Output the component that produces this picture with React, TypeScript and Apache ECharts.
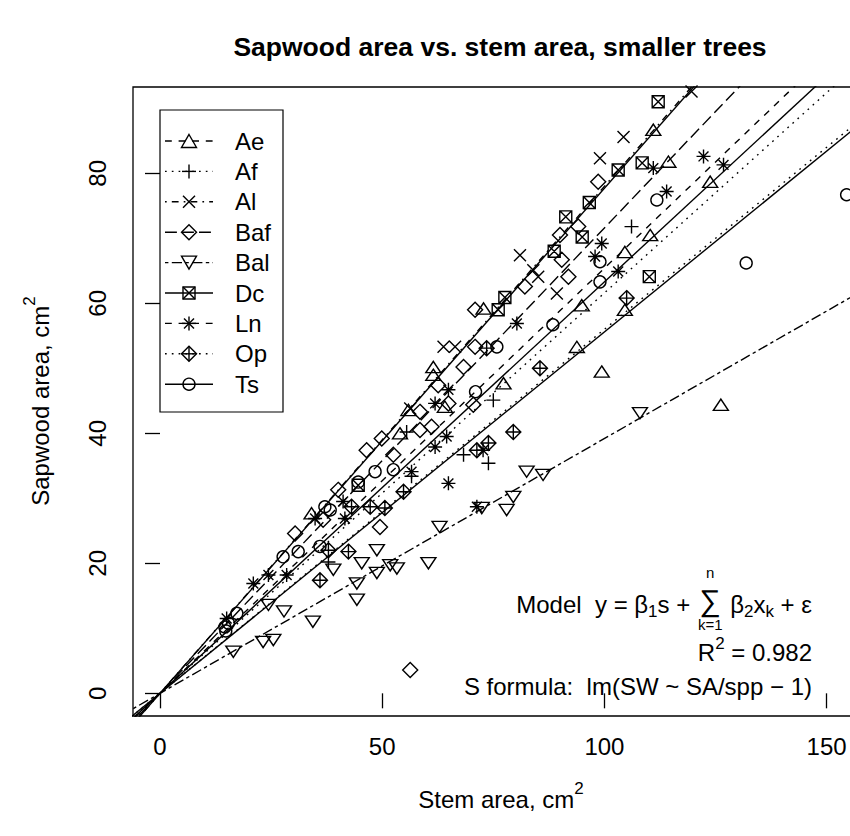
import React, { useEffect, useRef } from "react";
import * as echarts from "echarts";

// ---------------- data ----------------
const speciesNames = ["Ae", "Af", "Al", "Baf", "Bal", "Dc", "Ln", "Op", "Ts"];

const aeData = [
  [111.0, 86.7], [114.4, 81.8], [123.8, 78.7], [110.3, 70.5], [104.6, 67.9],
  [94.9, 59.7], [104.6, 59.0], [93.8, 53.3], [99.4, 49.5], [77.3, 47.7],
  [72.8, 59.2], [126.2, 44.4], [34.1, 27.7], [55.9, 43.6], [54.0, 40.0],
  [64.1, 44.1], [61.5, 50.2], [61.5, 49.0],
];
const afData = [
  [106.1, 71.8], [75.0, 45.1], [73.9, 35.4], [55.5, 40.2], [56.6, 33.4],
  [68.3, 36.7], [37.9, 20.2],
];
const alData = [
  [119.6, 92.6], [104.3, 85.6], [99.0, 82.3], [81.0, 67.4], [84.0, 65.1],
  [85.1, 64.1], [89.3, 61.5], [63.8, 53.3], [66.4, 53.3], [56.3, 43.8],
];
const bafData = [
  [98.6, 78.7], [90.0, 70.5], [94.1, 71.8], [90.4, 66.7], [91.9, 64.1],
  [82.1, 62.6], [70.9, 59.0], [70.9, 53.3], [68.3, 50.2], [62.6, 47.4],
  [64.9, 44.6], [58.5, 43.3], [70.5, 44.4], [49.9, 39.2], [58.5, 40.5],
  [61.1, 41.0], [46.5, 37.4], [52.5, 36.7], [49.5, 25.6], [40.1, 31.3],
  [36.7, 26.7], [30.4, 24.6], [56.3, 3.6],
];
const balData = [
  [16.5, 6.4], [23.2, 7.9], [25.5, 8.2], [34.4, 11.0], [24.4, 13.6],
  [27.9, 12.6], [39.0, 19.0], [44.3, 16.9], [44.3, 14.4], [45.4, 20.0],
  [48.8, 22.0], [48.8, 18.5], [51.8, 19.7], [53.3, 19.2], [60.4, 20.0],
  [62.9, 25.6], [108.0, 43.1], [82.5, 34.1], [86.2, 33.6], [79.5, 30.2],
  [78.0, 28.2], [72.4, 28.5],
];
const dcData = [
  [112.1, 91.0], [103.1, 80.5], [108.5, 81.6], [96.6, 75.5], [91.3, 73.3],
  [95.0, 70.2], [88.7, 68.0], [77.6, 60.9], [76.1, 59.0], [110.1, 64.1],
  [44.6, 32.0],
];
const lnData = [
  [122.3, 82.6], [126.8, 81.3], [111.0, 80.8], [114.0, 77.2], [99.4, 69.2],
  [97.9, 67.2], [103.1, 64.9], [80.3, 56.9], [61.9, 44.6], [64.5, 39.5],
  [61.9, 37.9], [56.6, 34.1], [64.9, 32.3], [71.3, 28.7], [41.2, 29.5],
  [41.6, 26.9], [34.9, 26.9], [28.5, 18.2], [21.0, 16.9], [24.4, 18.2],
  [15.0, 11.5], [64.9, 46.7], [72.7, 37.4],
];
const opData = [
  [105.0, 60.8], [85.5, 50.0], [73.5, 53.1], [79.5, 40.2], [73.9, 38.5],
  [71.3, 37.4], [54.8, 31.0], [47.3, 28.7], [50.6, 28.5], [43.1, 28.7],
  [37.9, 22.0], [36.0, 17.4], [42.4, 21.8],
];
const tsData = [
  [154.5, 76.7], [131.9, 66.2], [111.8, 75.9], [99.0, 66.4], [99.0, 63.3],
  [88.4, 56.7], [75.8, 53.3], [71.0, 46.4], [48.4, 34.1], [52.5, 34.4],
  [44.6, 32.5], [38.3, 28.2], [37.1, 28.7], [36.0, 22.6], [31.1, 21.8],
  [27.7, 21.0], [17.3, 12.3], [14.6, 10.2], [14.8, 9.6], [15.4, 10.8],
];
const speciesData = [aeData, afData, alData, bafData, balData, dcData, lnData, opData, tsData];

// fitted slopes (through origin), one per species
const speciesSlopes = [0.633, 0.616, 0.78, 0.716, 0.392, 0.777, 0.654, 0.56, 0.556];

const xTickValues = [0, 50, 100, 150];
const yTickValues = [0, 20, 40, 60, 80];

const titleText = "Sapwood area vs. stem area, smaller trees";
const xAxisTitle = "Stem area, cm";
const yAxisTitle = "Sapwood area, cm";
const r2Text = "0.982";
const formulaText = "S formula:  lm(SW ~ SA/spp \u2212 1)";

// ---------------- styles ----------------
const FONT = '"Liberation Sans", Arial, Helvetica, sans-serif';
const LW = 1.4;
const U = 1.7;
const DASH: Record<string, any> = {
  solid: "solid",
  dashed: [4 * U, 4 * U],
  dotted: [1 * U, 3 * U],
  dotdash: [1 * U, 3 * U, 4 * U, 3 * U],
  longdash: [7 * U, 3 * U],
  twodash: [2 * U, 2 * U, 6 * U, 2 * U],
};
// legend line types
const speciesLty = ["dashed", "dotted", "dotdash", "longdash", "twodash", "solid", "dashed", "dotted", "solid"];
// line types of the fitted lines as they appear in the plot
const fitLty = ["solid", "dotted", "dotdash", "longdash", "twodash", "solid", "dashed", "dotted", "solid"];
const speciesPch = ["triUp", "plus", "cross", "diamond", "triDown", "boxX", "star", "diamondPlus", "circle"];

const SYMBOL_PATH: Record<string, string> = {
  triUp: "path://M5 0L10 8.66L0 8.66Z",
  plus: "path://M5 0L5 10M0 5L10 5",
  cross: "path://M0 0L10 10M10 0L0 10",
  diamond: "path://M5 0L10 5L5 10L0 5Z",
  triDown: "path://M0 0L10 0L5 8.66Z",
  boxX: "path://M0 0L10 0L10 10L0 10ZM0 0L10 10M10 0L0 10",
  star: "path://M0 5L10 5M5 0L5 10M1.46 1.46L8.54 8.54M8.54 1.46L1.46 8.54",
  diamondPlus: "path://M5 0L10 5L5 10L0 5ZM5 0L5 10M0 5L10 5",
  circle: "circle",
};
const SYMBOL_SIZE: Record<string, any> = {
  triUp: [15, 13], plus: 14, cross: 12, diamond: 15, triDown: [15, 13],
  boxX: 12, star: 14, diamondPlus: 15, circle: 12,
};

// layout (pixels)
const CW = 880;
const CH = 836;
const GRID = { left: 133, top: 87, right: 10, bottom: 120 };
const X_MIN = -6.075;
const X_MAX = 159.76;
const Y_MIN = -3.49;
const Y_MAX = 93.28;

let measureCtx: CanvasRenderingContext2D | null = null;
function textW(t: string, size: number, weight = "normal") {
  if (!measureCtx) measureCtx = document.createElement("canvas").getContext("2d");
  measureCtx!.font = `${weight} ${size}px ${FONT}`;
  return measureCtx!.measureText(t).width;
}

function txt(t: string, x: number, y: number, size: number, align = "left", extra: any = {}) {
  return {
    type: "text",
    x,
    y,
    z: 100,
    silent: true,
    style: {
      text: t,
      fontSize: size,
      fontFamily: FONT,
      fill: "#000",
      textAlign: align,
      textVerticalAlign: "middle",
      align,
      verticalAlign: "middle",
      ...extra,
    },
  };
}

function symbolGraphic(kind: string, cx: number, cy: number) {
  const st = { fill: "none", stroke: "#000", lineWidth: LW };
  const L = (x1: number, y1: number, x2: number, y2: number) => ({
    type: "line", z: 101, silent: true, shape: { x1, y1, x2, y2 }, style: st,
  });
  const P = (pts: number[][]) => ({ type: "polygon", z: 101, silent: true, shape: { points: pts }, style: st });
  switch (kind) {
    case "triUp":
      return [P([[cx, cy - 6.5], [cx + 7.5, cy + 6.5], [cx - 7.5, cy + 6.5]])];
    case "triDown":
      return [P([[cx - 7.5, cy - 6.5], [cx + 7.5, cy - 6.5], [cx, cy + 6.5]])];
    case "plus":
      return [L(cx - 7, cy, cx + 7, cy), L(cx, cy - 7, cx, cy + 7)];
    case "cross":
      return [L(cx - 6, cy - 6, cx + 6, cy + 6), L(cx + 6, cy - 6, cx - 6, cy + 6)];
    case "diamond":
      return [P([[cx, cy - 7.5], [cx + 7.5, cy], [cx, cy + 7.5], [cx - 7.5, cy]])];
    case "diamondPlus":
      return [
        P([[cx, cy - 7.5], [cx + 7.5, cy], [cx, cy + 7.5], [cx - 7.5, cy]]),
        L(cx - 7.5, cy, cx + 7.5, cy), L(cx, cy - 7.5, cx, cy + 7.5),
      ];
    case "boxX":
      return [
        { type: "rect", z: 101, silent: true, shape: { x: cx - 6, y: cy - 6, width: 12, height: 12 }, style: st },
        L(cx - 6, cy - 6, cx + 6, cy + 6), L(cx + 6, cy - 6, cx - 6, cy + 6),
      ];
    case "star":
      return [
        L(cx - 7, cy, cx + 7, cy), L(cx, cy - 7, cx, cy + 7),
        L(cx - 5, cy - 5, cx + 5, cy + 5), L(cx + 5, cy - 5, cx - 5, cy + 5),
      ];
    default:
      return [{ type: "circle", z: 101, silent: true, shape: { cx, cy, r: 6 }, style: st }];
  }
}

function buildGraphics() {
  const g: any[] = [];
  // title
  g.push(txt(titleText, 500, 47, 26.5, "center", { fontWeight: "bold" }));

  // x axis title with superscript
  {
    const w1 = textW(xAxisTitle, 24);
    const w2 = textW("2", 17);
    const x0 = 501 - (w1 + w2) / 2;
    g.push(txt(xAxisTitle, x0, 799, 24));
    g.push(txt("2", x0 + w1, 788, 17));
  }
  // y axis title (rotated)
  {
    const w1 = textW(yAxisTitle, 24);
    const w2 = textW("2", 17);
    const x0 = -(w1 + w2) / 2;
    g.push({
      type: "group",
      x: 40,
      y: 401,
      rotation: Math.PI / 2,
      children: [txt(yAxisTitle, x0, 0, 24), txt("2", x0 + w1, -11, 17)],
    });
  }

  // legend
  const lx = 160, ly = 110, lw = 123, lh = 302;
  g.push({
    type: "rect", z: 99, silent: true,
    shape: { x: lx, y: ly, width: lw, height: lh },
    style: { fill: "#fff", stroke: "#000", lineWidth: 1.2 },
  });
  speciesNames.forEach((name, i) => {
    const y = 141 + 30.4 * i;
    const dash = DASH[speciesLty[i]];
    g.push({
      type: "line", z: 100, silent: true,
      shape: { x1: 165, y1: y, x2: 213, y2: y },
      style: { stroke: "#000", lineWidth: LW, lineDash: dash === "solid" ? null : dash },
    });
    symbolGraphic(speciesPch[i], 189, y).forEach((e) => g.push(e));
    g.push(txt(name, 235, y, 24));
  });

  // model annotation (right-aligned)
  const RX = 812;
  {
    const cy = 604;
    const pieces: any[] = [
      { t: "Model  y = \u03b2", s: 24, dy: 0 },
      { t: "1", s: 17, dy: 7 },
      { t: "s + ", s: 24, dy: 0 },
      { sigma: true },
      { t: " \u03b2", s: 24, dy: 0 },
      { t: "2", s: 17, dy: 7 },
      { t: "x", s: 24, dy: 0 },
      { t: "k", s: 17, dy: 7 },
      { t: " + \u03b5", s: 24, dy: 0 },
    ];
    const sigW = Math.max(textW("\u2211", 30), textW("k=1", 15)) + 2;
    const widths = pieces.map((p) => (p.sigma ? sigW : textW(p.t, p.s)));
    let x = RX - widths.reduce((a, b) => a + b, 0);
    pieces.forEach((p, i) => {
      if (p.sigma) {
        const c = x + widths[i] / 2;
        g.push(txt("\u2211", c, cy - 4, 30, "center"));
        g.push(txt("n", c, cy - 32, 15, "center"));
        g.push(txt("k=1", c, cy + 20, 15, "center"));
      } else {
        g.push(txt(p.t, x, cy + p.dy, p.s));
      }
      x += widths[i];
    });
  }
  {
    const cy = 652;
    const w3 = textW(" = " + r2Text, 24);
    const w2 = textW("2", 17);
    const w1 = textW("R", 24);
    const x0 = RX - w1 - w2 - w3;
    g.push(txt("R", x0, cy, 24));
    g.push(txt("2", x0 + w1, cy - 9, 17));
    g.push(txt(" = " + r2Text, x0 + w1 + w2, cy, 24));
  }
  g.push(txt(formulaText, RX, 686, 24, "right"));
  return g;
}

function buildOption() {
  const lineSeries = speciesNames.map((name, i) => {
    const s = speciesSlopes[i];
    const dash = DASH[fitLty[i]];
    return {
      type: "line",
      name: name + " fit",
      data: [[-10, -10 * s], [200, 200 * s]],
      symbol: "none",
      silent: true,
      clip: true,
      z: 2,
      lineStyle: { color: "#000", width: LW, type: dash },
    };
  });
  const pointSeries = speciesNames.map((name, i) => ({
    type: "scatter",
    name,
    data: speciesData[i],
    symbol: SYMBOL_PATH[speciesPch[i]],
    symbolSize: SYMBOL_SIZE[speciesPch[i]],
    symbolKeepAspect: true,
    silent: true,
    clip: true,
    z: 3,
    itemStyle: { color: "rgba(0,0,0,0)", borderColor: "#000", borderWidth: LW, opacity: 1 },
  }));

  return {
    animation: false,
    backgroundColor: "#ffffff",
    textStyle: { fontFamily: FONT },
    grid: {
      ...GRID,
      show: true,
      borderColor: "#000",
      borderWidth: 1.3,
      backgroundColor: "transparent",
      containLabel: false,
    },
    xAxis: {
      type: "value",
      min: X_MIN,
      max: X_MAX,
      axisLine: { show: false },
      splitLine: { show: false },
      axisTick: {
        show: true,
        inside: false,
        length: 15,
        customValues: xTickValues,
        lineStyle: { color: "#000", width: 1.3 },
      },
      axisLabel: {
        show: true,
        customValues: xTickValues,
        fontSize: 24,
        fontFamily: FONT,
        color: "#000",
        margin: 18,
      },
    },
    yAxis: {
      type: "value",
      min: Y_MIN,
      max: Y_MAX,
      axisLine: { show: false },
      splitLine: { show: false },
      axisTick: {
        show: true,
        inside: false,
        length: 15,
        customValues: yTickValues,
        lineStyle: { color: "#000", width: 1.3 },
      },
      axisLabel: {
        show: true,
        customValues: yTickValues,
        rotate: 90,
        fontSize: 24,
        fontFamily: FONT,
        color: "#000",
        margin: 24,
      },
    },
    graphic: { elements: buildGraphics() },
    series: [...lineSeries, ...pointSeries],
  };
}

export default function App() {
  const ref = useRef<HTMLDivElement>(null);
  useEffect(() => {
    if (!ref.current) return;
    const chart = echarts.init(ref.current, undefined, { renderer: "svg", width: CW, height: CH });
    chart.setOption(buildOption() as any);
    return () => chart.dispose();
  }, []);
  return (
    <div
      style={{
        position: "absolute",
        left: 0,
        top: 0,
        width: 850,
        height: 836,
        overflow: "hidden",
        background: "#fff",
      }}
    >
      <div ref={ref} style={{ width: CW, height: CH }} />
    </div>
  );
}
